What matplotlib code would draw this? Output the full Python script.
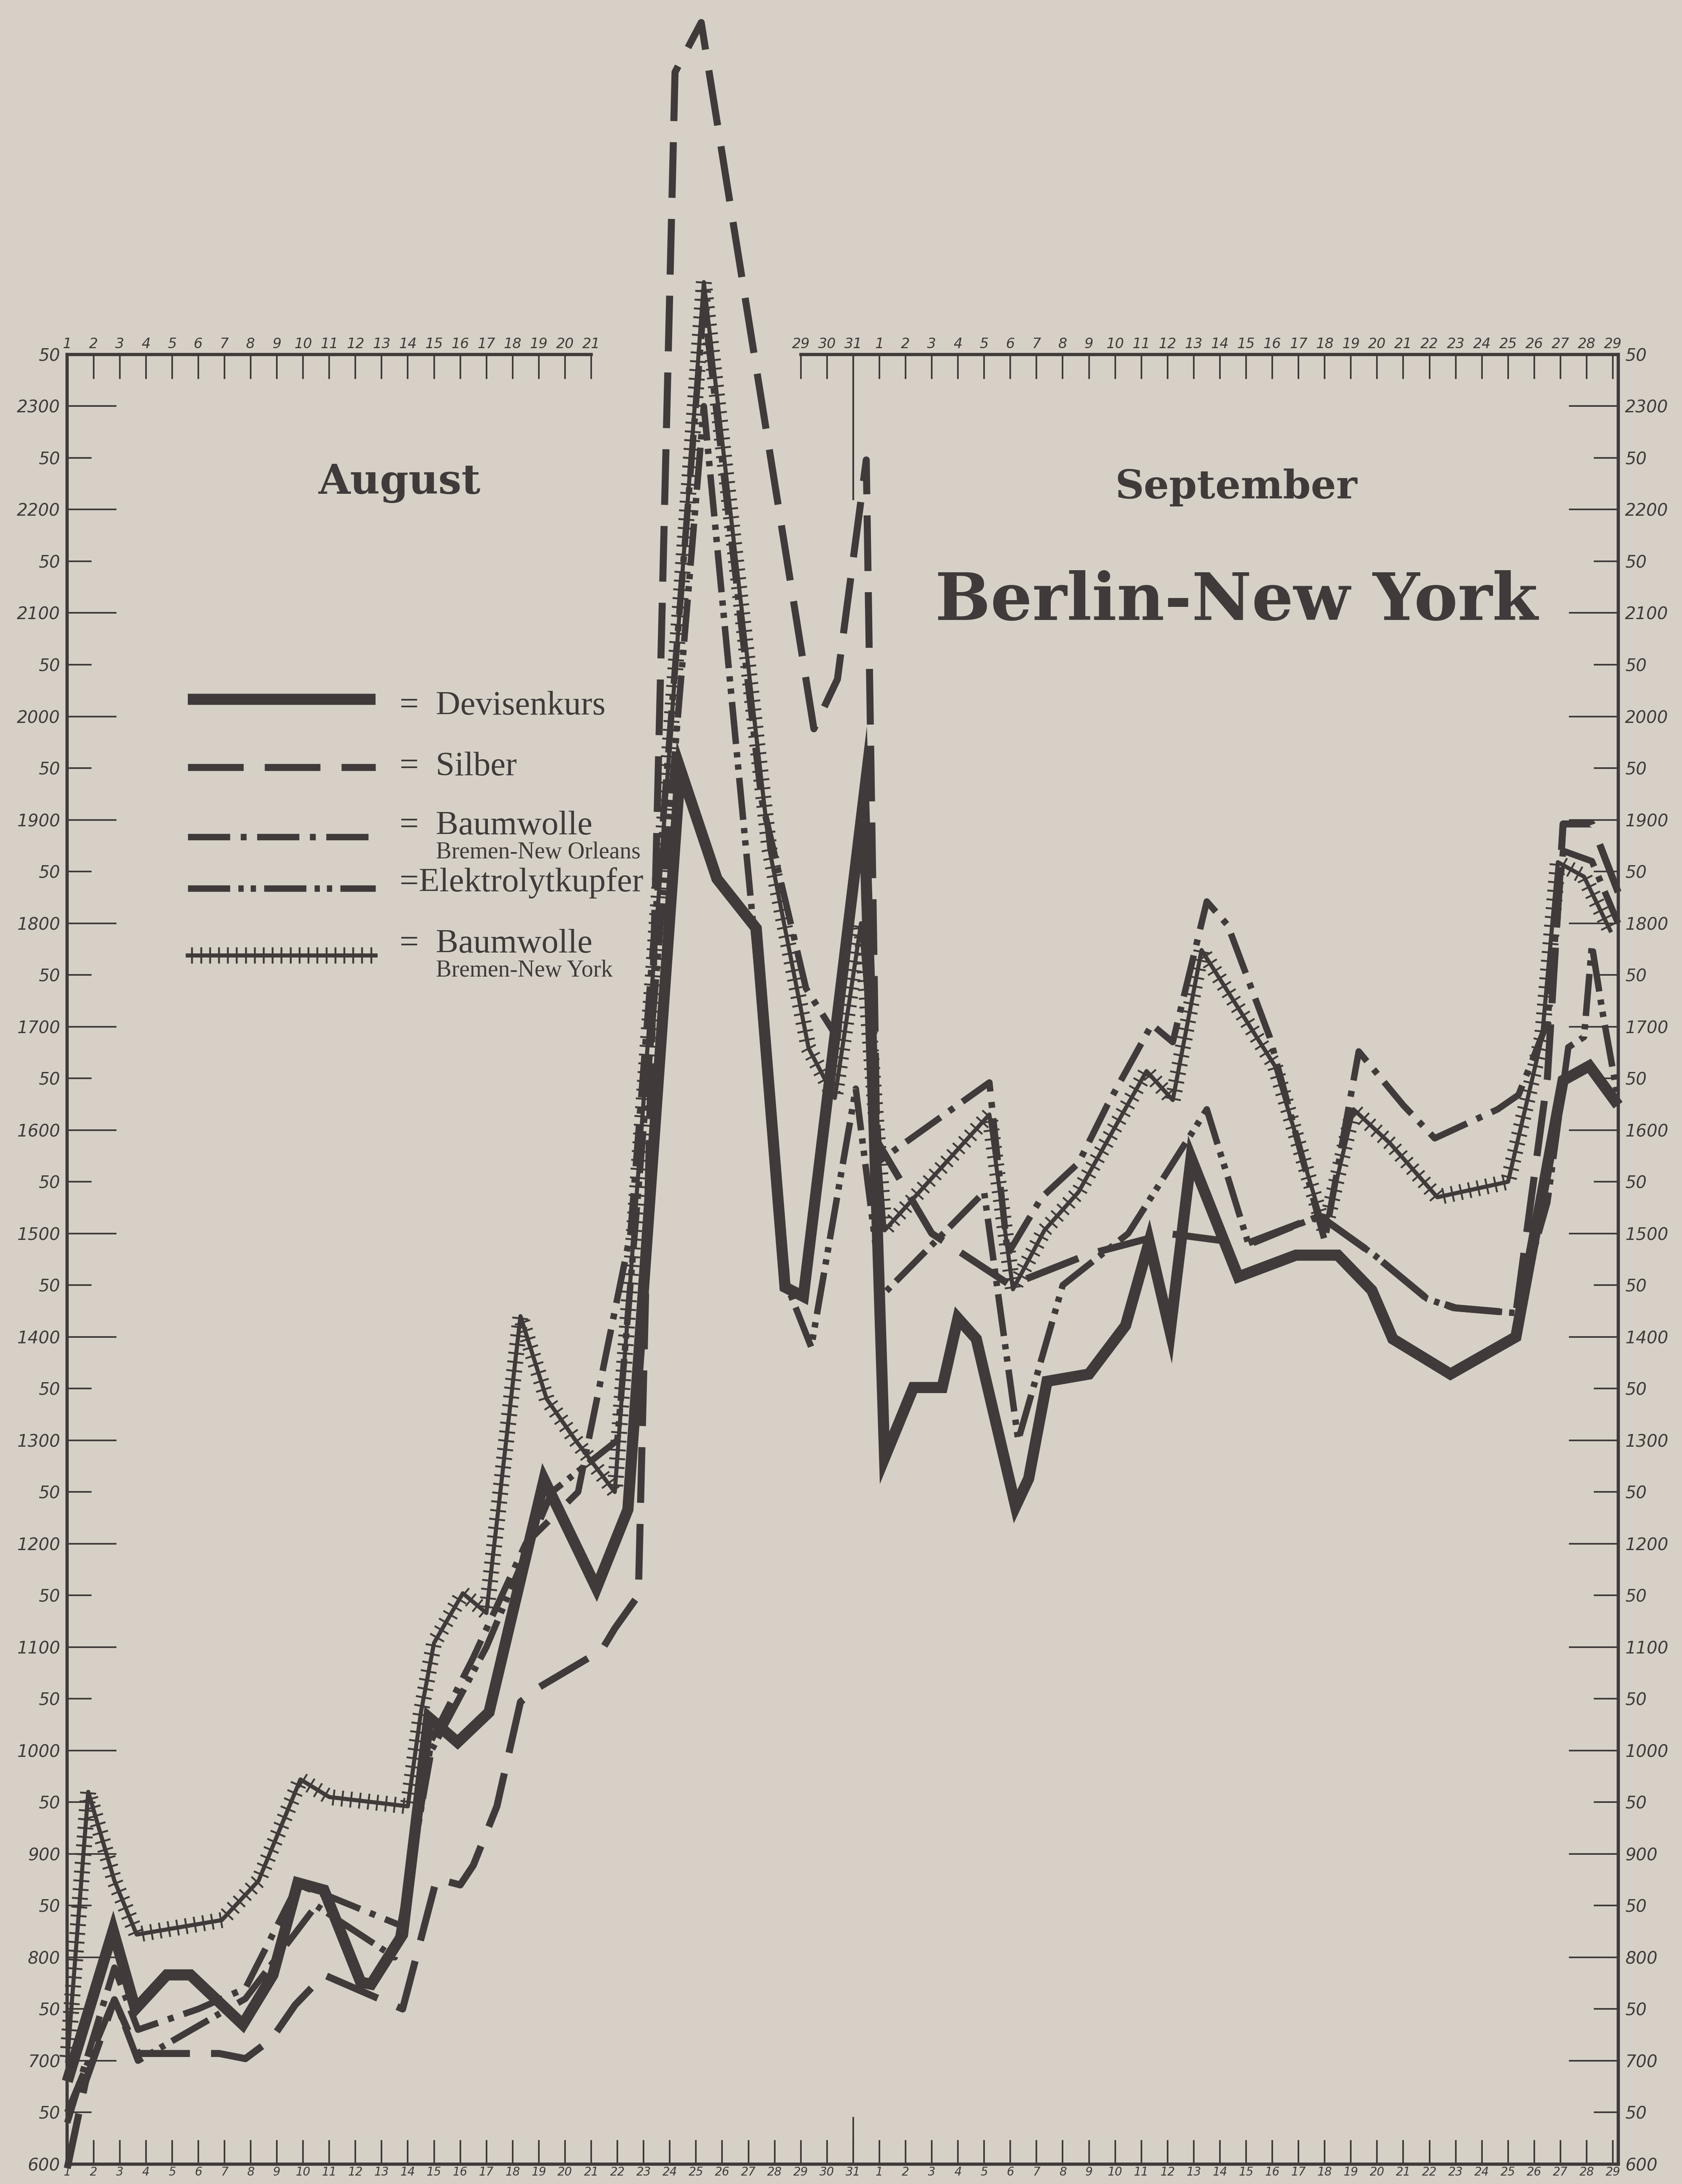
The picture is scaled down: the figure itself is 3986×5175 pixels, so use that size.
import matplotlib.pyplot as plt
import matplotlib.patheffects as pe
from matplotlib.lines import Line2D

plt.rcParams['lines.scale_dashes'] = False

# day index: 0 = 1. August ... 30 = 31. August, 31 = 1. September ... 59 = 29. September
devisen_x = [0, 1.75, 2.6, 3.8, 4.7, 6.7, 7.85, 8.8, 9.8, 11.2, 11.6, 12.8, 13.8, 14.9, 16.1, 18.2, 20.2, 21.4,
             23.4, 24.8, 26.3, 27.4, 28.1, 30.4, 31.2, 32.3, 33.4, 34.0, 34.7, 36.2, 36.7, 37.4, 39.0, 40.4, 41.3,
             42.1, 42.9, 44.7, 46.9, 48.5, 49.8, 50.6, 52.8, 55.3, 57.1, 58.1, 59.2]
devisen_y = [680, 826, 750, 783, 783, 735, 783, 872, 865, 776, 774, 822, 1032, 1008, 1037, 1262, 1157, 1233,
             1949, 1843, 1795, 1448, 1439, 1920, 1283, 1351, 1351, 1418, 1398, 1236, 1263, 1357, 1364, 1411, 1492,
             1405, 1573, 1458, 1479, 1479, 1445, 1398, 1364, 1400, 1648, 1662, 1624]

silber_x = [0, 0.7, 1.8, 2.7, 5.8, 6.8, 7.8, 8.7, 9.8, 12.8, 14.1, 15.0, 15.5, 16.4, 17.3, 18.0, 20.4, 20.9, 21.8,
            23.2, 24.2, 28.5, 29.4, 30.5, 30.9, 33, 36, 39, 42, 45, 47.8, 49.9, 51.9, 53, 55.3, 56.5, 57.1, 58.2, 59.2]
silber_y = [596, 680, 759, 707, 707, 702, 721, 754, 783, 750, 876, 870, 889, 946, 1047, 1061, 1097, 1118, 1150,
            2623, 2671, 1988, 2036, 2248, 1590, 1500, 1450, 1480, 1500, 1490, 1517, 1479, 1437, 1428, 1423, 1650,
            1896, 1896, 1830]

bw_no_x = [0, 1.8, 2.7, 5.0, 6.8, 8.8, 9.9, 12.8, 13.9, 15.5, 17.5, 19.5, 21.5, 24.3, 26.5, 28.2, 29.4, 30.3, 31.0,
           35.2, 35.9, 37.2, 38.6, 39.7, 41.4, 42.2, 43.5, 44.3, 45.9, 48.0, 49.3, 51.0, 52.2, 54.6, 55.4, 56.5,
           57.1, 58.2, 59.2]
bw_no_y = [640, 790, 730, 750, 770, 870, 860, 830, 1010, 1090, 1200, 1250, 1500, 2400, 1920, 1737, 1689, 1900, 1570,
           1646, 1480, 1535, 1568, 1624, 1702, 1685, 1821, 1798, 1690, 1493, 1676, 1624, 1592, 1620, 1634, 1704,
           1870, 1860, 1800]

kupfer_x = [0, 1.8, 2.7, 6.8, 9.5, 12.5, 13.9, 16, 18.5, 21, 24.3, 27.5, 28.4, 30.1, 31.1, 35, 36.3, 38, 40.5, 42,
            43.5, 45.1, 47.8, 49.9, 51.9, 52.9, 55.3, 56.5, 57.3, 57.9, 58.2, 58.6, 59.2]
kupfer_y = [650, 760, 700, 760, 850, 800, 1000, 1100, 1250, 1300, 2300, 1448, 1390, 1640, 1440, 1540, 1300, 1450,
            1500, 1560, 1620, 1489, 1517, 1479, 1437, 1428, 1423, 1530, 1680, 1690, 1779, 1715, 1630]

bw_ny_x = [0, 0.8, 1.8, 2.65, 5.9, 7.3, 8.9, 10.0, 13.0, 13.5, 14.0, 15.1, 16.0, 17.3, 18.3, 19.4, 20.9, 24.3, 26.8,
           28.3, 29.3, 30.3, 31.2, 35.2, 36.1, 37.3, 38.6, 41.2, 42.2, 43.3, 46.1, 48.0, 49.1, 50.5, 52.3, 55.0,
           56.3, 56.9, 57.9, 58.9]
bw_ny_y = [700, 960, 874, 822, 836, 874, 972, 955, 946, 1037, 1104, 1152, 1133, 1420, 1340, 1300, 1250, 2420, 1872,
           1679, 1631, 1800, 1503, 1615, 1446, 1503, 1540, 1657, 1629, 1774, 1662, 1503, 1620, 1587, 1535, 1550,
           1690, 1859, 1845, 1793]

# axis labels
aug_days = list(range(1, 32))
sep_days = list(range(1, 30))
top_left_days = list(range(0, 21))
top_right_days = list(range(28, 60))
y_major = list(range(600, 2400, 100))
y_minor = list(range(650, 2400, 100))

ink = '#403b3a'
paper = '#d6d0c7'

fig = plt.figure(figsize=(39.86, 51.75), dpi=100)
fig.patch.set_facecolor(paper)
ax = fig.add_axes([0.040, 0.0091, 0.922, 0.8286])
ax.set_facecolor('none')
ax.set_xlim(0, 59.2)
ax.set_ylim(600, 2350)

for side in ['left', 'right', 'bottom']:
    ax.spines[side].set_linewidth(5.5)
    ax.spines[side].set_color(ink)
ax.spines['top'].set_visible(False)

# y axis, labels on both sides
ax.set_yticks(y_major)
ax.set_yticklabels([str(v) for v in y_major])
ax.set_yticks(y_minor, minor=True)
ax.set_yticklabels(['50'] * len(y_minor), minor=True)
ax.tick_params(axis='y', which='both', direction='in', left=True, right=True,
               labelleft=True, labelright=True, colors=ink, labelsize=29, width=2.8, pad=12)
ax.tick_params(axis='y', which='major', length=84)
ax.tick_params(axis='y', which='minor', length=42)
for lab in ax.get_yticklabels(which='both'):
    lab.set_fontstyle('italic')

# bottom axis
ax.set_xticks(range(0, 60))
ax.set_xticklabels([str(d) for d in aug_days + sep_days])
ax.tick_params(axis='x', which='major', direction='in', length=41, width=2.8, colors=ink,
               labelsize=20, pad=4)
for lab in ax.get_xticklabels():
    lab.set_fontstyle('italic')
ax.plot([30, 30], [600, 645], color=ink, lw=2.8)

# top axis, broken where the curves run above it
ax.plot([0, 20], [2350, 2350], color=ink, lw=5.5, clip_on=False)
ax.plot([28, 59.2], [2350, 2350], color=ink, lw=5.5, clip_on=False)
top = ax.secondary_xaxis('top')
top.spines['top'].set_visible(False)
top_ticks = top_left_days + top_right_days
top.set_xticks(top_ticks)
top.set_xticklabels([str(d + 1) if d < 31 else str(d - 30) for d in top_ticks])
top.tick_params(direction='in', length=42, width=2.8, colors=ink, labelsize=24, pad=6)
for lab in top.get_xticklabels():
    lab.set_fontstyle('italic')
ax.plot([30, 30], [2350, 2210], color=ink, lw=3, clip_on=False)

# series
style_dev = dict(color=ink, lw=19, solid_joinstyle='miter', solid_capstyle='butt')
style_sil = dict(color=ink, lw=12, dashes=(95, 36), dash_capstyle='butt')
style_no = dict(color=ink, lw=11, dashes=(72, 18, 10, 18), dash_capstyle='butt')
style_ku = dict(color=ink, lw=11, dashes=(72, 14, 9, 12, 9, 14), dash_capstyle='butt')
ny_effects = [pe.TickedStroke(spacing=15, angle=90, length=0.8, linewidth=3.2),
              pe.TickedStroke(spacing=15, angle=-90, length=0.8, linewidth=3.2), pe.Normal()]
style_ny = dict(color=ink, lw=7, path_effects=ny_effects)

ax.plot(silber_x, silber_y, clip_on=False, **style_sil)
ax.plot(kupfer_x, kupfer_y, clip_on=False, **style_ku)
ax.plot(bw_no_x, bw_no_y, clip_on=False, **style_no)
ax.plot(bw_ny_x, bw_ny_y, clip_on=False, **style_ny)
ax.plot(devisen_x, devisen_y, clip_on=False, **style_dev)

# headings
serif = 'DejaVu Serif'
fig.text(0.2376, 1 - 1145 / 5175, 'August', fontsize=70, fontweight='bold', family=serif,
         color=ink, ha='center', va='center')
fig.text(0.735, 1 - 1155 / 5175, 'September', fontsize=68, fontweight='bold', family=serif,
         color=ink, ha='center', va='center')
fig.text(0.735, 1 - 1426 / 5175, 'Berlin-New York', fontsize=112, fontweight='bold', family=serif,
         color=ink, ha='center', va='center')

# legend
legend_rows = [
    (1657, style_dev, '=  Devisenkurs', 1673, None),
    (1818, style_sil, '=  Silber', 1818, None),
    (1983, style_no, '=  Baumwolle', 1957, 'Bremen-New Orleans'),
    (2105, style_ku, '=Elektrolytkupfer', 2092, None),
    (2264, style_ny, '=  Baumwolle', 2237, 'Bremen-New York'),
]
for ly, st, label, ty, sub in legend_rows:
    fig.add_artist(Line2D([445 / 3986, 890 / 3986], [1 - ly / 5175, 1 - ly / 5175],
                          transform=fig.transFigure, **st))
    fig.text(947 / 3986, 1 - ty / 5175, label, fontsize=58, family='Liberation Serif',
             color=ink, va='center')
    if sub:
        fig.text(1033 / 3986, 1 - (ty + 63) / 5175, sub, fontsize=40, family='Liberation Serif',
                 color=ink, va='center')

fig.savefig('out.png', dpi=100, facecolor=paper)
